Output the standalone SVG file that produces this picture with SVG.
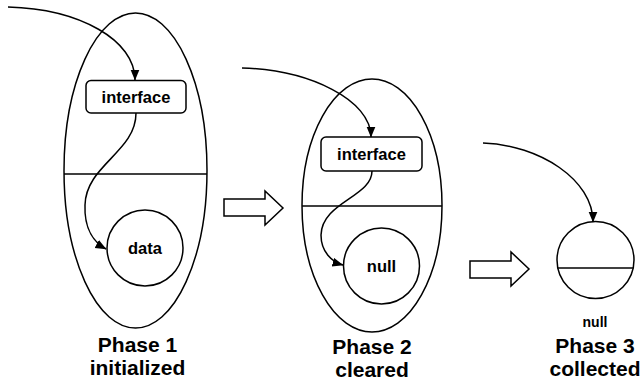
<svg xmlns="http://www.w3.org/2000/svg" width="641" height="387" viewBox="0 0 641 387">
  <style>
    .shape { fill: #ffffff; stroke: #000000; stroke-width: 1.5; }
    .line { fill: none; stroke: #000000; stroke-width: 1.5; }
    .link { fill: none; stroke: #000000; stroke-width: 1.5; marker-end: url(#head); }
    .label { font-family: "Liberation Sans", Arial, sans-serif; font-weight: bold; font-size: 16.5px; text-anchor: middle; fill: #000000; }
    .small { font-family: "Liberation Sans", Arial, sans-serif; font-weight: bold; font-size: 14px; text-anchor: middle; fill: #000000; }
    .caption { font-family: "Liberation Sans", Arial, sans-serif; font-weight: bold; font-size: 21px; text-anchor: middle; fill: #000000; }
  </style>
  <defs>
    <marker id="head" markerWidth="12" markerHeight="10" refX="10.5" refY="4.5" orient="auto" markerUnits="userSpaceOnUse">
      <path d="M0,0 L11,4.5 L0,9 z" fill="#000000"/>
    </marker>
  </defs>

  <rect width="641" height="387" fill="#ffffff"/>

  <!-- phase 1: object with interface and data -->
  <g id="phase1">
    <ellipse class="shape" cx="135.5" cy="170.5" rx="71.5" ry="157.5"/>
    <line class="line" x1="64" y1="174" x2="207" y2="174"/>
    <rect class="shape" x="86" y="80.5" width="100" height="32.5" rx="5"/>
    <text class="label" x="136" y="102.5">interface</text>
    <circle class="shape" cx="145" cy="248" r="38"/>
    <text class="label" x="145" y="254">data</text>
    <text class="caption" x="137.5" y="352">Phase 1</text>
    <text class="caption" x="137.5" y="375">initialized</text>
  </g>

  <!-- phase 2: object with interface, data cleared -->
  <g id="phase2">
    <ellipse class="shape" cx="372" cy="205.5" rx="70" ry="126.5"/>
    <line class="line" x1="302" y1="206" x2="442" y2="206"/>
    <rect class="shape" x="321" y="137" width="101" height="34" rx="5"/>
    <text class="label" x="371.5" y="160">interface</text>
    <circle class="shape" cx="381.5" cy="266" r="38"/>
    <text class="label" x="381.5" y="272">null</text>
    <text class="caption" x="372" y="354">Phase 2</text>
    <text class="caption" x="372" y="377">cleared</text>
  </g>

  <!-- phase 3: collected object -->
  <g id="phase3">
    <circle class="shape" cx="595.5" cy="260" r="38.5"/>
    <line class="line" x1="557.8" y1="268" x2="633.2" y2="268"/>
    <text class="small" x="595" y="327">null</text>
    <text class="caption" x="595" y="353">Phase 3</text>
    <text class="caption" x="595" y="376">collected</text>
  </g>

  <!-- transition arrows between phases -->
  <g id="step1">
    <polygon class="shape" points="224,199 265,199 265,191 283,208 265,225 265,216 224,216"/>
  </g>
  <g id="step2">
    <polygon class="shape" points="470,261 511,261 511,252 529,269 511,286 511,278 470,278"/>
  </g>

  <!-- references -->
  <g id="connectors">
    <path class="link" d="M8,7 C80,9 135,40 135,80"/>
    <path class="link" d="M136,113 C136,152 86,165 85,205 C84,230 95,243 106,249"/>
    <path class="link" d="M242,68 C310,70 371,100 371,137"/>
    <path class="link" d="M372,171 C372,197 322,202 321,235 C321,252 332,262 343,265"/>
    <path class="link" d="M483,143 C540,145 593,180 593,222"/>
  </g>
</svg>
